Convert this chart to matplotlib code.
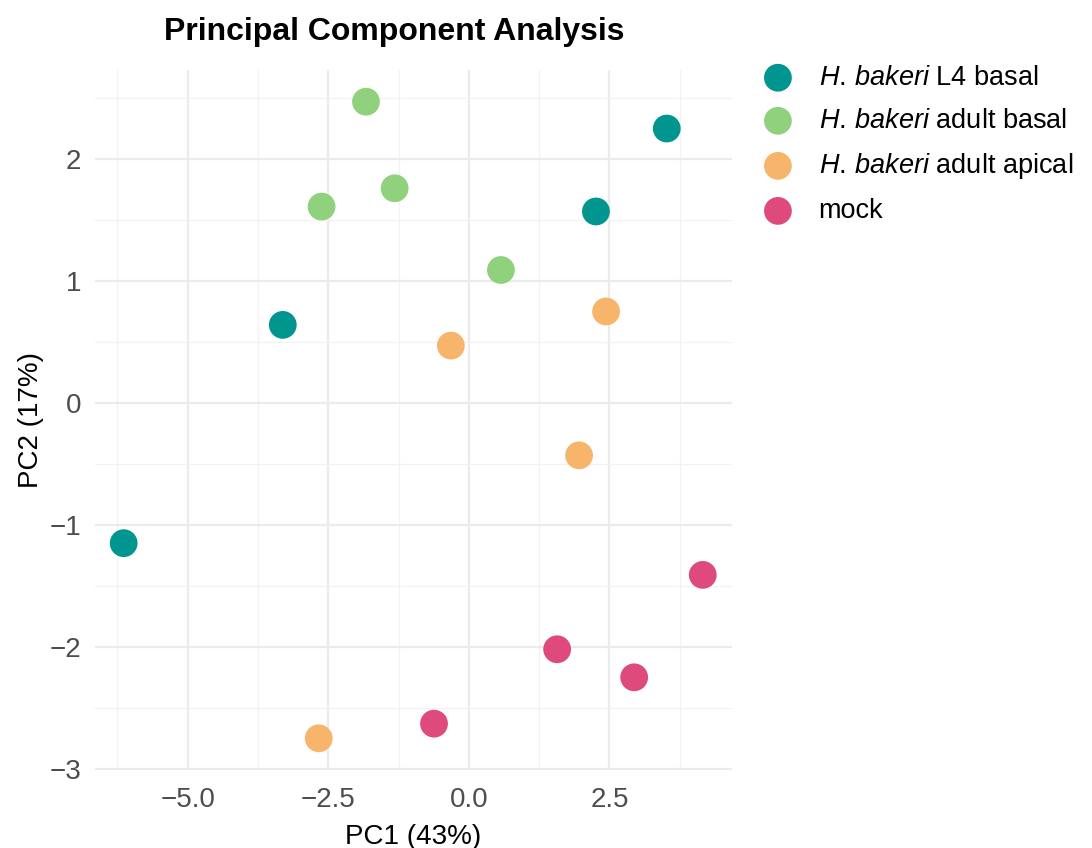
import matplotlib
matplotlib.use("Agg")
import matplotlib.pyplot as plt
from matplotlib.ticker import MultipleLocator

plt.rcParams['font.family'] = ['Liberation Sans', 'DejaVu Sans']
plt.rcParams['mathtext.fontset'] = 'custom'
plt.rcParams['mathtext.it'] = 'Liberation Sans:italic'
plt.rcParams['mathtext.rm'] = 'Liberation Sans'

groups = [r"$\mathit{H.\,bakeri}$ L4 basal",
          r"$\mathit{H.\,bakeri}$ adult basal",
          r"$\mathit{H.\,bakeri}$ adult apical",
          "mock"]
colors = ["#00968f", "#8fd17c", "#f7b56c", "#de4a7c"]

pc1_l4 = [-6.14, -3.31, 2.26, 3.52]
pc2_l4 = [-1.15, 0.64, 1.57, 2.25]
pc1_adult_basal = [-1.83, -2.62, -1.32, 0.57]
pc2_adult_basal = [2.47, 1.61, 1.76, 1.09]
pc1_adult_apical = [-0.32, 2.44, 1.96, -2.67]
pc2_adult_apical = [0.47, 0.75, -0.43, -2.75]
pc1_mock = [4.16, 1.57, 2.94, -0.62]
pc2_mock = [-1.41, -2.02, -2.25, -2.63]

xs = [pc1_l4, pc1_adult_basal, pc1_adult_apical, pc1_mock]
ys = [pc2_l4, pc2_adult_basal, pc2_adult_apical, pc2_mock]

fig = plt.figure(figsize=(10.92, 8.48), dpi=100)
ax = fig.add_axes([95/1092, 1-770/848, (732-95)/1092, (770-70)/848])

for x, y, c, g in zip(xs, ys, colors, groups):
    ax.scatter(x, y, s=400, color=c, label=g, edgecolors='none', zorder=3)

ax.set_xlim(-6.65, 4.68)
ax.set_ylim(-3.01, 2.73)
ax.xaxis.set_major_locator(MultipleLocator(2.5))
ax.xaxis.set_minor_locator(MultipleLocator(1.25))
ax.yaxis.set_major_locator(MultipleLocator(1))
ax.yaxis.set_minor_locator(MultipleLocator(0.5))
ax.xaxis.set_major_formatter(matplotlib.ticker.FuncFormatter(lambda v, p: ("\u2212" if v < 0 else "") + f"{abs(v):.1f}"))
ax.yaxis.set_major_formatter(matplotlib.ticker.FuncFormatter(lambda v, p: ("\u2212" if v < 0 else "") + f"{abs(v):.0f}"))

ax.grid(True, which='major', color='#ebebeb', linewidth=1.6, zorder=0)
ax.grid(True, which='minor', color='#f2f2f2', linewidth=0.9, zorder=0)
ax.set_axisbelow(True)
for s in ax.spines.values():
    s.set_visible(False)
ax.tick_params(which='both', length=0)
ax.tick_params(axis='both', labelsize=20, labelcolor='#4d4d4d')
ax.tick_params(axis='x', pad=12)
ax.tick_params(axis='y', pad=10)

ax.set_xlabel("PC1 (43%)", fontsize=20, labelpad=8)
ax.set_ylabel("PC2 (17%)", fontsize=20, labelpad=4)

fig.text(394/1092, 1-32/848, "Principal Component Analysis", fontsize=23,
         fontweight='bold', ha='center', va='center')

leg = ax.legend(loc='upper left', bbox_to_anchor=(740/1092, 1-54/848),
                bbox_transform=fig.transFigure, frameon=False, fontsize=19.5,
                handletextpad=0.5, labelspacing=0.63, borderaxespad=0,
                markerscale=1.0, scatterpoints=1)

fig.savefig("out.png", dpi=100)
